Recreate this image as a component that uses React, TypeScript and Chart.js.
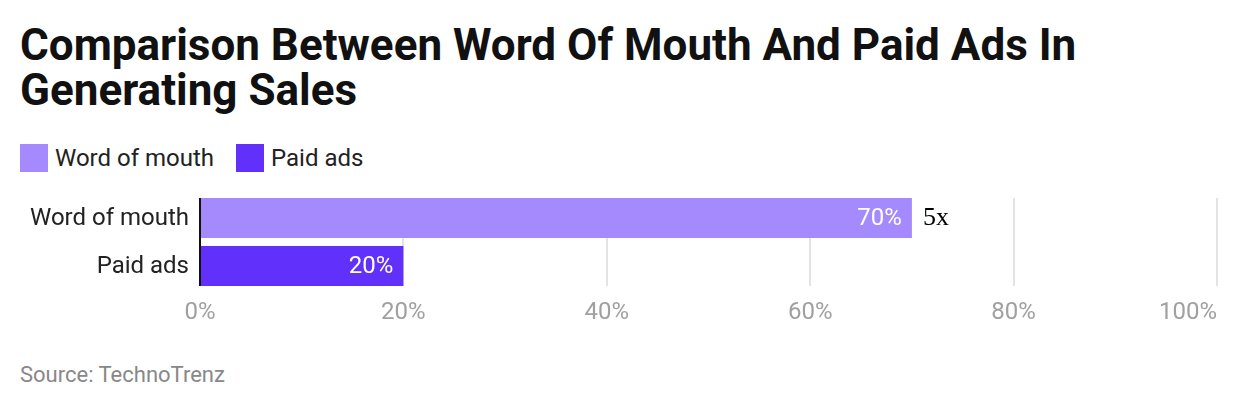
import React, { useEffect, useRef } from "react";
import { Chart, registerables } from "chart.js";

Chart.register(...registerables);

const titleLine1 = "Comparison Between Word Of Mouth And Paid Ads In";
const titleLine2 = "Generating Sales";
const categories = ["Word of mouth", "Paid ads"];
const values = [70, 20];
const barColors = ["#a48afc", "#6230fb"];
const xTicks = [0, 20, 40, 60, 80, 100];
const annotationText = ["5x", ""];
const sourceText = "Source: TechnoTrenz";

const FONT = "Roboto, 'Noto Sans', sans-serif";

function barSpan(chart: any) {
  const meta = chart.getDatasetMeta(0);
  const first = meta.data[0];
  const last = meta.data[meta.data.length - 1];
  return {
    top: first.y - first.height / 2,
    bottom: last.y + last.height / 2,
  };
}

const gridPlugin = {
  id: "customGrid",
  beforeDatasetsDraw(chart: any) {
    const { ctx } = chart;
    const { top, bottom } = barSpan(chart);
    const xs = chart.scales.x;
    ctx.save();
    ctx.strokeStyle = "#e3e3e3";
    ctx.lineWidth = 2;
    xTicks.forEach((t, i) => {
      if (i === 0) return;
      const px = Math.round(xs.getPixelForValue(t));
      ctx.beginPath();
      ctx.moveTo(px, top);
      ctx.lineTo(px, bottom);
      ctx.stroke();
    });
    ctx.restore();
  },
};

const labelPlugin = {
  id: "customLabels",
  afterDatasetsDraw(chart: any) {
    const { ctx, chartArea } = chart;
    const meta = chart.getDatasetMeta(0);
    const { top, bottom } = barSpan(chart);
    ctx.save();
    // category axis line
    ctx.strokeStyle = "#111111";
    ctx.lineWidth = 2;
    ctx.beginPath();
    ctx.moveTo(chartArea.left, top);
    ctx.lineTo(chartArea.left, bottom);
    ctx.stroke();
    meta.data.forEach((bar: any, i: number) => {
      ctx.textBaseline = "middle";
      ctx.font = `24px ${FONT}`;
      ctx.fillStyle = "#222222";
      ctx.textAlign = "right";
      ctx.fillText(categories[i], chartArea.left - 11, bar.y + 1);
      ctx.fillStyle = "#ffffff";
      ctx.fillText(values[i] + "%", bar.x - 10, bar.y + 1);
      if (annotationText[i]) {
        ctx.font = `26px 'Liberation Serif', 'DejaVu Serif', serif`;
        ctx.fillStyle = "#000000";
        ctx.textAlign = "left";
        ctx.fillText(annotationText[i], bar.x + 11, bar.y);
      }
    });
    const xs = chart.scales.x;
    ctx.font = `24px ${FONT}`;
    ctx.fillStyle = "#a0a0a0";
    ctx.textBaseline = "middle";
    xTicks.forEach((t, i) => {
      const px = xs.getPixelForValue(t);
      ctx.textAlign = i === xTicks.length - 1 ? "right" : "center";
      ctx.fillText(t + "%", px, bottom + 27);
    });
    ctx.restore();
  },
};

export default function App() {
  const ref = useRef<HTMLCanvasElement>(null);
  useEffect(() => {
    if (!ref.current) return;
    const chart = new Chart(ref.current, {
      type: "bar",
      data: {
        labels: categories,
        datasets: [
          {
            data: values,
            backgroundColor: barColors,
            barPercentage: 40 / 48,
            categoryPercentage: 1,
          },
        ],
      },
      options: {
        indexAxis: "y",
        animation: false,
        responsive: false,
        maintainAspectRatio: false,
        layout: { padding: { left: 0, right: 23, top: 4, bottom: 50 } },
        plugins: { legend: { display: false }, tooltip: { enabled: false } },
        scales: {
          x: {
            min: 0,
            max: 100,
            ticks: { display: false, stepSize: 20 },
            grid: { display: false, drawTicks: false },
            border: { display: false },
          },
          y: {
            afterFit(scale: any) {
              scale.width = 200;
            },
            ticks: { display: false },
            grid: { display: false, drawTicks: false },
            border: { display: false },
          },
        },
      },
      plugins: [gridPlugin, labelPlugin],
    });
    return () => chart.destroy();
  }, []);

  return (
    <div
      style={{
        position: "fixed",
        left: 0,
        top: 0,
        width: 1240,
        height: 410,
        background: "#ffffff",
        fontFamily: FONT,
      }}
    >
      <div
        style={{
          position: "absolute",
          left: 20,
          top: 23,
          width: 1210,
          fontSize: 44,
          fontWeight: 700,
          lineHeight: "45px",
          color: "#111111",
          whiteSpace: "nowrap",
        }}
      >
        {titleLine1}
        <br />
        {titleLine2}
      </div>
      <div
        style={{
          position: "absolute",
          left: 20,
          top: 144,
          height: 28,
          display: "flex",
          alignItems: "center",
          fontSize: 24,
          color: "#222222",
        }}
      >
        {categories.map((c, i) => (
          <div key={c} style={{ display: "flex", alignItems: "center", marginRight: 22 }}>
            <span
              style={{
                display: "inline-block",
                width: 28,
                height: 28,
                background: barColors[i],
                marginRight: 7,
              }}
            />
            <span>{c}</span>
          </div>
        ))}
      </div>
      <canvas
        ref={ref}
        width={1240}
        height={150}
        style={{ position: "absolute", left: 0, top: 190, width: 1240, height: 150 }}
      />
      <div
        style={{
          position: "absolute",
          left: 20,
          top: 362,
          fontSize: 22,
          color: "#888888",
        }}
      >
        {sourceText}
      </div>
    </div>
  );
}
